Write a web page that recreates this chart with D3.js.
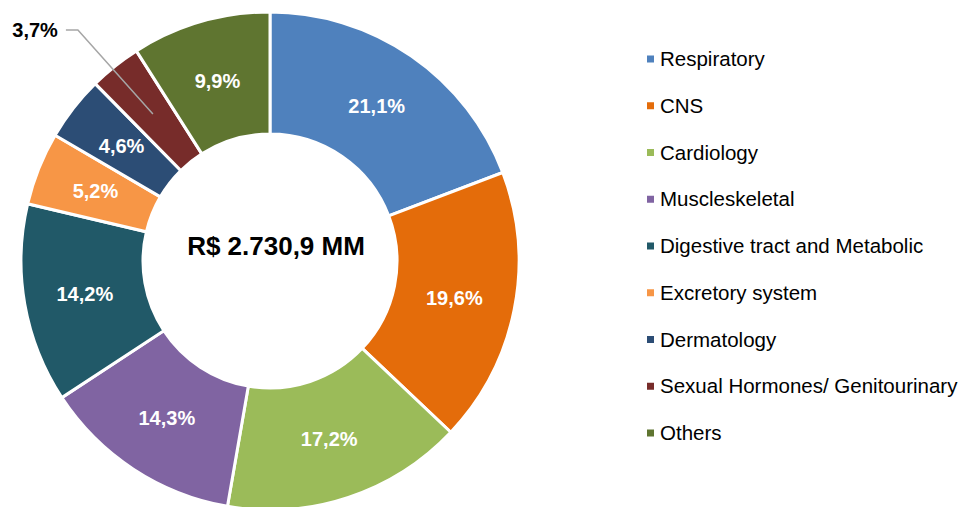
<!DOCTYPE html>
<html lang="en">

<head>
  <meta charset="UTF-8">
  <title>Donut</title>
  <script src="https://cdn.jsdelivr.net/npm/d3@7"></script>
  <style>
    body {
      margin: 0;
      background: #fff;
    }

    text {
      font-family: "Liberation Sans", Arial, sans-serif;
    }
  </style>
</head>

<body>
  <div id="container"></div>

  <script>
    const width = 961;
    const height = 507;

    // data
    const categories = ['Respiratory', 'CNS', 'Cardiology', 'Muscleskeletal',
      'Digestive tract and Metabolic', 'Excretory system', 'Dermatology',
      'Sexual Hormones/ Genitourinary', 'Others'];
    const values = [21.1, 19.6, 17.2, 14.3, 14.2, 5.2, 4.6, 3.7, 9.9];
    const labels = ['21,1%', '19,6%', '17,2%', '14,3%', '14,2%', '5,2%', '4,6%', '3,7%', '9,9%'];
    const colors = ['#4F81BD', '#E46C0A', '#9BBB59', '#8064A2', '#215968',
      '#F79646', '#2C4D75', '#772C2A', '#5F7530'];
    const totalLabel = 'R$ 2.730,9 MM';

    const cx = 270, cy = 261;
    const outerR = 249, innerR = 127;

    var data = categories.map(function (c, i) {
      return { name: c, value: values[i], label: labels[i], color: colors[i] };
    });

    var svg = d3.select('#container')
      .append('svg')
      .attr('width', width)
      .attr('height', height);

    var pie = d3.pie().sort(null).value(function (d) { return d.value; });
    var arc = d3.arc().innerRadius(innerR).outerRadius(outerR);
    var labelArc = d3.arc().innerRadius(188).outerRadius(188);

    var g = svg.append('g').attr('transform', 'translate(' + cx + ',' + cy + ')');
    var arcs = pie(data);

    g.selectAll('path')
      .data(arcs)
      .enter()
      .append('path')
      .attr('d', arc)
      .attr('fill', function (d) { return d.data.color; })
      .attr('stroke', '#fff')
      .attr('stroke-width', 3);

    // labels inside, the small slice gets a leader line
    arcs.forEach(function (d) {
      var c = labelArc.centroid(d);
      if (d.data.value < 4) {
        var elbow = [c[0] - 75, c[1] - 84];
        var start = [elbow[0] - 12, elbow[1]];
        g.append('polyline')
          .attr('points', [start, elbow, c].map(function (p) { return p.join(','); }).join(' '))
          .attr('fill', 'none')
          .attr('stroke', '#A6A6A6')
          .attr('stroke-width', 1.5);
        g.append('text')
          .attr('x', start[0] - 8)
          .attr('y', start[1] + 7)
          .attr('text-anchor', 'end')
          .attr('font-size', 20)
          .attr('font-weight', 'bold')
          .attr('fill', '#000')
          .text(d.data.label);
      } else {
        g.append('text')
          .attr('x', c[0])
          .attr('y', c[1] + 7)
          .attr('text-anchor', 'middle')
          .attr('font-size', 20)
          .attr('font-weight', 'bold')
          .attr('fill', '#fff')
          .text(d.data.label);
      }
    });

    g.append('text')
      .attr('x', 6)
      .attr('y', -6)
      .attr('text-anchor', 'middle')
      .attr('font-size', 26)
      .attr('font-weight', 'bold')
      .attr('fill', '#000')
      .text(totalLabel);

    // legend
    var legend = svg.append('g').attr('transform', 'translate(647,66)');
    var rows = legend.selectAll('g')
      .data(data)
      .enter()
      .append('g')
      .attr('transform', function (d, i) { return 'translate(0,' + (i * 46.75) + ')'; });

    rows.append('rect')
      .attr('x', 0)
      .attr('y', -10.5)
      .attr('width', 7)
      .attr('height', 7)
      .attr('fill', function (d) { return d.color; });

    rows.append('text')
      .attr('x', 13)
      .attr('y', 0)
      .attr('font-size', 20.5)
      .attr('fill', '#000')
      .text(function (d) { return d.name; });
  </script>
</body>

</html>
